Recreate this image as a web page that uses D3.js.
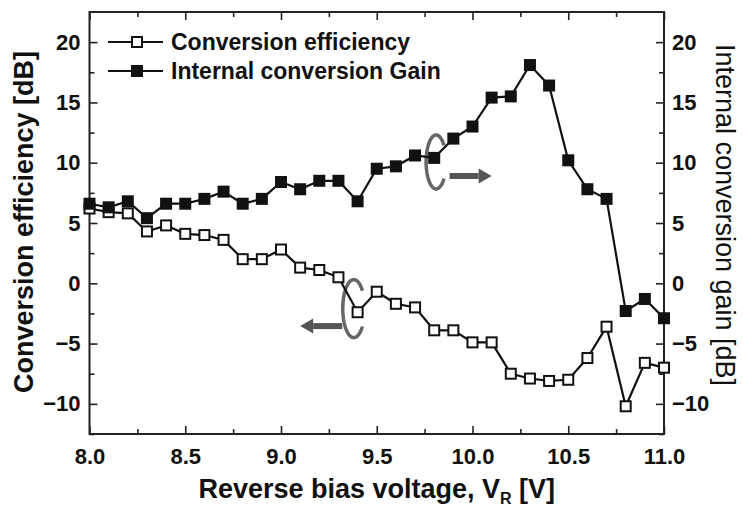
<!DOCTYPE html>
<html>
<head>
<meta charset="utf-8">
<script src="https://cdn.jsdelivr.net/npm/d3@7"></script>
<style>
  body { margin: 0; background: #fff; }
  text { font-family: "Liberation Sans", Arial, sans-serif; fill: #111; }
</style>
</head>
<body>
<div id="viz"></div>
<script>
/**********************/
/******* data         */
/**********************/

const voltage = [8.0, 8.1, 8.2, 8.3, 8.4, 8.5, 8.6, 8.7, 8.8, 8.9,
                 9.0, 9.1, 9.2, 9.3, 9.4, 9.5, 9.6, 9.7, 9.8, 9.9,
                 10.0, 10.1, 10.2, 10.3, 10.4, 10.5, 10.6, 10.7, 10.8, 10.9, 11.0];

const conversionEfficiency = [6.2, 5.9, 5.8, 4.3, 4.8, 4.1, 4.0, 3.6, 2.0, 2.0,
                              2.8, 1.3, 1.1, 0.5, -2.4, -0.7, -1.7, -2.0, -3.9, -3.9,
                              -4.9, -4.9, -7.5, -7.9, -8.1, -8.0, -6.2, -3.6, -10.2, -6.6, -7.0];

const internalGain = [6.6, 6.3, 6.8, 5.4, 6.6, 6.6, 7.0, 7.6, 6.6, 7.0,
                      8.4, 7.8, 8.5, 8.5, 6.8, 9.5, 9.7, 10.6, 10.4, 12.0,
                      13.0, 15.4, 15.5, 18.1, 16.4, 10.2, 7.8, 7.0, -2.3, -1.3, -2.9];

const seriesNames = ["Conversion efficiency", "Internal conversion Gain"];
const xTicks = [8.0, 8.5, 9.0, 9.5, 10.0, 10.5, 11.0];
const xMinorTicks = [8.25, 8.75, 9.25, 9.75, 10.25, 10.75];
const yTicks = [-10, -5, 0, 5, 10, 15, 20];
const yMinorTicks = [-12.5, -7.5, -2.5, 2.5, 7.5, 12.5, 17.5];

/**********************/
/******* d3           */
/**********************/

const W = 743, H = 506;
const margin = {top: 12, right: 79, bottom: 72, left: 89.5};

const svg = d3.select("#viz").append("svg")
    .attr("width", W)
    .attr("height", H);

const x = d3.scaleLinear().domain([8, 11]).range([margin.left, W - margin.right]);
const y = d3.scaleLinear().domain([-12.5, 22.5]).range([H - margin.bottom, margin.top]);

function styleAxis(g, size) {
    g.select(".domain").remove();
    g.selectAll("line").attr("stroke", "#222").attr("stroke-width", 1.6);
    g.selectAll("text")
        .style("font-size", size + "px")
        .style("font-weight", "bold")
        .attr("fill", "#111");
}

// bottom + top
svg.append("g")
    .attr("transform", `translate(0, ${y.range()[0]})`)
    .call(d3.axisBottom(x).tickValues(xTicks).tickFormat(d3.format(".1f"))
        .tickSizeInner(-8).tickSizeOuter(0).tickPadding(14))
    .call(g => styleAxis(g, 22));
svg.append("g")
    .attr("transform", `translate(0, ${y.range()[0]})`)
    .call(d3.axisBottom(x).tickValues(xMinorTicks).tickFormat("").tickSizeInner(-5).tickSizeOuter(0))
    .call(g => styleAxis(g, 22));
svg.append("g")
    .attr("transform", `translate(0, ${y.range()[1]})`)
    .call(d3.axisTop(x).tickValues(xTicks).tickFormat("").tickSizeInner(-8).tickSizeOuter(0))
    .call(g => styleAxis(g, 22));
svg.append("g")
    .attr("transform", `translate(0, ${y.range()[1]})`)
    .call(d3.axisTop(x).tickValues(xMinorTicks).tickFormat("").tickSizeInner(-5).tickSizeOuter(0))
    .call(g => styleAxis(g, 22));

// left + right (same dB scale on both sides)
svg.append("g")
    .attr("transform", `translate(${x.range()[0]}, 0)`)
    .call(d3.axisLeft(y).tickValues(yTicks).tickSizeInner(-8).tickSizeOuter(0).tickPadding(9))
    .call(g => styleAxis(g, 22));
svg.append("g")
    .attr("transform", `translate(${x.range()[0]}, 0)`)
    .call(d3.axisLeft(y).tickValues(yMinorTicks).tickFormat("").tickSizeInner(-5).tickSizeOuter(0))
    .call(g => styleAxis(g, 22));
svg.append("g")
    .attr("transform", `translate(${x.range()[1]}, 0)`)
    .call(d3.axisRight(y).tickValues(yTicks).tickSizeInner(-8).tickSizeOuter(0).tickPadding(8))
    .call(g => styleAxis(g, 22));
svg.append("g")
    .attr("transform", `translate(${x.range()[1]}, 0)`)
    .call(d3.axisRight(y).tickValues(yMinorTicks).tickFormat("").tickSizeInner(-5).tickSizeOuter(0))
    .call(g => styleAxis(g, 22));

// frame
svg.append("rect")
    .attr("x", x.range()[0])
    .attr("y", y.range()[1])
    .attr("width", x.range()[1] - x.range()[0])
    .attr("height", y.range()[0] - y.range()[1])
    .attr("fill", "none")
    .attr("stroke", "#222")
    .attr("stroke-width", 2);

// axis titles
svg.append("text")
    .attr("x", (x.range()[0] + x.range()[1]) / 2)
    .attr("y", 498)
    .attr("text-anchor", "middle")
    .style("font-size", "27px")
    .style("font-weight", "bold")
    .html('Reverse bias voltage, V<tspan dy="6" style="font-size:16px">R</tspan><tspan dy="-6"> [V]</tspan>');

svg.append("text")
    .attr("transform", `translate(33, ${(y.range()[0] + y.range()[1]) / 2 - 1}) rotate(-90)`)
    .attr("text-anchor", "middle")
    .style("font-size", "27px")
    .style("font-weight", "bold")
    .text("Conversion efficiency [dB]");

svg.append("text")
    .attr("transform", `translate(716, ${(y.range()[0] + y.range()[1]) / 2 - 8}) rotate(90)`)
    .attr("text-anchor", "middle")
    .style("font-size", "27px")
    .text("Internal conversion gain [dB]");

// annotation rings + arrows
const annoColor = "#666";
function ring(cx, cy, rx, ry, gap) {
    const angles = d3.range(gap, 360 - gap + 1, 4).map(a => a * Math.PI / 180);
    const pts = angles.map(a => [cx + rx * Math.cos(a), cy - ry * Math.sin(a)]);
    svg.append("path")
        .attr("d", d3.line()(pts))
        .attr("fill", "none")
        .attr("stroke", annoColor)
        .attr("stroke-width", 3.5);
}
function arrow(x0, x1, yy) {
    const dir = x1 > x0 ? 1 : -1;
    const head = 13;
    svg.append("line")
        .attr("x1", x0).attr("x2", x1 - dir * head)
        .attr("y1", yy).attr("y2", yy)
        .attr("stroke", "#555")
        .attr("stroke-width", 6);
    svg.append("path")
        .attr("d", `M${x1},${yy} L${x1 - dir * head},${yy - 7.5} L${x1 - dir * head},${yy + 7.5} Z`)
        .attr("fill", "#555");
}

ring(x(9.81), y(10.06), 10, 27, 38);
arrow(x(9.88), x(10.1), y(8.9));
ring(x(9.38), y(-2.1), 11, 29, 38);
arrow(x(9.32), x(9.1), y(-3.55));

// series
const line = d3.line().x(d => x(d[0])).y(d => y(d[1]));
const openData = voltage.map((v, i) => [v, conversionEfficiency[i]]);
const filledData = voltage.map((v, i) => [v, internalGain[i]]);

svg.append("path")
    .attr("d", line(openData))
    .attr("fill", "none")
    .attr("stroke", "#111")
    .attr("stroke-width", 2.2);
svg.append("g").selectAll("rect")
    .data(openData)
    .enter()
    .append("rect")
    .attr("x", d => x(d[0]) - 5)
    .attr("y", d => y(d[1]) - 5)
    .attr("width", 10)
    .attr("height", 10)
    .attr("fill", "#fff")
    .attr("stroke", "#111")
    .attr("stroke-width", 2);

svg.append("path")
    .attr("d", line(filledData))
    .attr("fill", "none")
    .attr("stroke", "#111")
    .attr("stroke-width", 2.2);
svg.append("g").selectAll("rect")
    .data(filledData)
    .enter()
    .append("rect")
    .attr("x", d => x(d[0]) - 6)
    .attr("y", d => y(d[1]) - 6)
    .attr("width", 12)
    .attr("height", 12)
    .attr("fill", "#111");

// legend
const legend = svg.append("g").selectAll("g")
    .data(seriesNames)
    .enter()
    .append("g")
    .attr("transform", (d, i) => `translate(108, ${42 + i * 29})`);

legend.append("line")
    .attr("x1", 0).attr("x2", 55)
    .attr("stroke", "#111")
    .attr("stroke-width", 2.2);
legend.append("rect")
    .attr("x", (d, i) => i === 0 ? 24 : 23)
    .attr("y", (d, i) => i === 0 ? -5 : -6)
    .attr("width", (d, i) => i === 0 ? 10 : 12)
    .attr("height", (d, i) => i === 0 ? 10 : 12)
    .attr("fill", (d, i) => i === 0 ? "#fff" : "#111")
    .attr("stroke", "#111")
    .attr("stroke-width", (d, i) => i === 0 ? 2 : 0);
legend.append("text")
    .attr("x", 63)
    .attr("y", 8)
    .style("font-size", "23px")
    .style("font-weight", "bold")
    .text(d => d);
</script>
</body>
</html>
